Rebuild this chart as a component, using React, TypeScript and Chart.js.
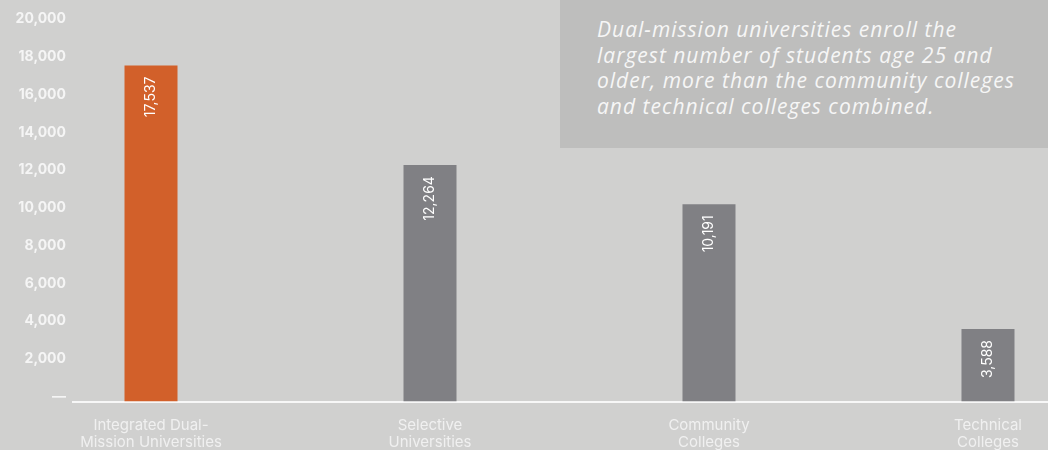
import React, { useEffect, useRef } from "react";
import { Chart, registerables } from "chart.js";

Chart.register(...registerables);

const categories: string[][] = [
  ["Integrated Dual-", "Mission Universities"],
  ["Selective", "Universities"],
  ["Community", "Colleges"],
  ["Technical", "Colleges"],
];
const values: number[] = [17537, 12264, 10191, 3588];
const barColors: string[] = ["#d2602a", "#808084", "#808084", "#808084"];
const yTickValues: number[] = [0, 2000, 4000, 6000, 8000, 10000, 12000, 14000, 16000, 18000, 20000];
const noteLines: string[] = [
  "Dual-mission universities enroll the",
  "largest number of students age 25 and",
  "older, more than the community colleges",
  "and technical colleges combined.",
];

const fmt = (v: number) => v.toLocaleString("en-US");

const valueLabelPlugin = {
  id: "valueLabels",
  afterDatasetsDraw(chart: any) {
    const ctx = chart.ctx;
    const meta = chart.getDatasetMeta(0);
    ctx.save();
    ctx.fillStyle = "#ffffff";
    ctx.font = "400 14px Inter";
    ctx.textAlign = "right";
    ctx.textBaseline = "middle";
    meta.data.forEach((bar: any, i: number) => {
      ctx.save();
      ctx.translate(bar.x, bar.y + 11);
      ctx.rotate(-Math.PI / 2);
      ctx.fillText(fmt(values[i]), 0, 0);
      ctx.restore();
    });
    ctx.restore();
  },
};

export default function App() {
  const ref = useRef<HTMLCanvasElement | null>(null);
  useEffect(() => {
    if (!ref.current) return;
    const chart = new Chart(ref.current, {
      type: "bar",
      data: {
        datasets: [
          {
            data: values.map((v, i) => ({ x: i, y: v })),
            backgroundColor: barColors,
            borderWidth: 0,
            base: -250,
            categoryPercentage: 1,
            barPercentage: 0.19,
          } as any,
        ],
      },
      options: {
        animation: false,
        responsive: true,
        maintainAspectRatio: false,
        layout: { padding: { top: 19, right: 0, bottom: 0, left: 0 } },
        plugins: { legend: { display: false }, tooltip: { enabled: false } },
        scales: {
          x: {
            type: "linear",
            offset: false,
            min: -0.2796,
            max: 3.2151,
            grid: { display: false, drawTicks: false },
            border: { display: true, color: "#f7f7f7", width: 2 },
            afterBuildTicks: (axis: any) => {
              axis.ticks = categories.map((_, i) => ({ value: i }));
            },
            afterFit: (axis: any) => {
              axis.height = 48.5;
            },
            ticks: {
              autoSkip: false,
              maxRotation: 0,
              padding: 16,
              color: "#f0f0f0",
              font: { family: "Inter", size: 15, weight: 400, lineHeight: 1.13 },
              callback: (v: any) => categories[v] ?? "",
            },
          },
          y: {
            min: -250,
            max: 20000,
            grid: { display: false, drawTicks: false },
            border: { display: false },
            afterBuildTicks: (axis: any) => {
              axis.ticks = yTickValues.map((v) => ({ value: v }));
            },
            afterFit: (axis: any) => {
              axis.width = 73;
            },
            ticks: {
              padding: 7,
              color: "#f5f5f5",
              font: { family: "Inter", size: 14, weight: 700 },
              callback: (v: any) => (v === 0 ? "—" : fmt(Number(v))),
            },
          },
        },
      } as any,
      plugins: [valueLabelPlugin],
    });
    return () => chart.destroy();
  }, []);

  return (
    <div
      style={{
        position: "fixed",
        left: 0,
        top: 0,
        width: 1048,
        height: 450,
        background: "#d0d0cf",
        overflow: "hidden",
      }}
    >
      <canvas ref={ref} style={{ position: "absolute", left: 0, top: 0 }} />
      <div
        style={{
          position: "absolute",
          left: 560,
          top: 0,
          width: 488,
          height: 148,
          background: "#bebebd",
          boxSizing: "border-box",
          padding: "17px 0 0 37px",
          color: "#f6f6f6",
          fontFamily: "'Open Sans', sans-serif",
          fontStyle: "italic",
          fontWeight: 400,
          fontSize: 21,
          letterSpacing: "1px",
          lineHeight: "25.5px",
          whiteSpace: "nowrap",
        }}
      >
        {noteLines.map((l, i) => (
          <div key={i}>{l}</div>
        ))}
      </div>
    </div>
  );
}
